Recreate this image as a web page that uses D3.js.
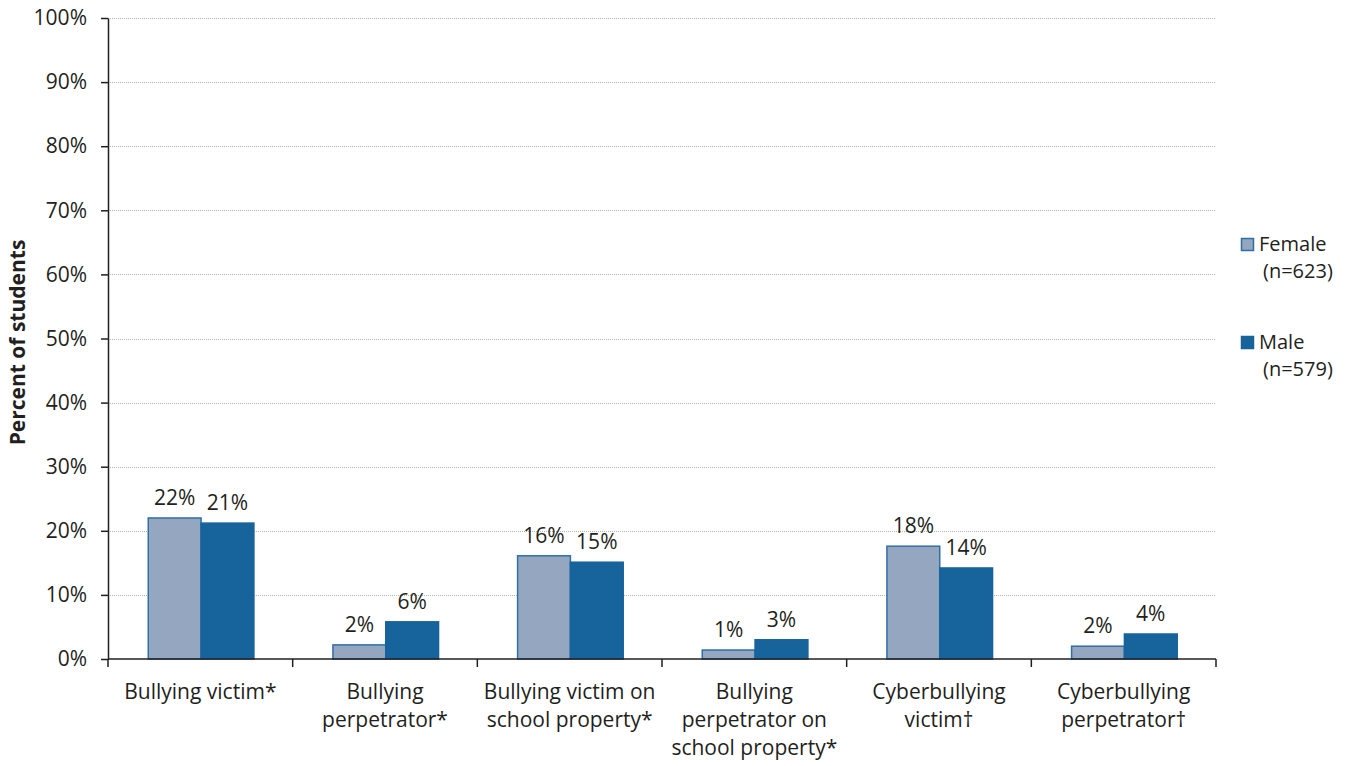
<!DOCTYPE html>
<html>
<head>
<meta charset="utf-8">
<script src="https://cdn.jsdelivr.net/npm/d3@7"></script>
<style>
  body { margin: 0; background: #fff; }
  text { font-family: "Open Sans", "Noto Sans", sans-serif; fill: #231f20; }
</style>
</head>
<body>
<div class="chart"></div>
<script>
// categories and values
var categories = [
    ["Bullying victim*"],
    ["Bullying", "perpetrator*"],
    ["Bullying victim on", "school property*"],
    ["Bullying", "perpetrator on", "school property*"],
    ["Cyberbullying", "victim\u2020"],
    ["Cyberbullying", "perpetrator\u2020"]
];
var series = ["Female", "Male"];
var seriesN = ["(n=623)", "(n=579)"];
var female = [22.0, 2.2, 16.1, 1.4, 17.6, 2.0];
var male = [21.2, 5.8, 15.1, 3.0, 14.2, 3.9];
var femaleLabels = ["22%", "2%", "16%", "1%", "18%", "2%"];
var maleLabels = ["21%", "6%", "15%", "3%", "14%", "4%"];
var yTicks = [0, 10, 20, 30, 40, 50, 60, 70, 80, 90, 100];

var width = 1346,
    height = 766;

var margin = {left: 108, right: 130, top: 18, bottom: 107};

var svg = d3.select(".chart").append("svg")
    .attr("width", width)
    .attr("height", height);

var x0 = d3.scaleBand()
    .domain(d3.range(categories.length))
    .range([margin.left, width - margin.right]);

var bw = x0.bandwidth();
var x1 = d3.scaleBand()
    .domain(series)
    .range([bw * 0.218, bw * 0.79]);

var y = d3.scaleLinear()
    .domain([0, 100])
    .range([height - margin.bottom, margin.top]);

var colors = {Female: "#95a7c0", Male: "#17639b"};
var strokes = {Female: "#2f6ea6", Male: "#17639b"};

// gridlines
svg.append("g")
    .selectAll("line")
    .data(yTicks.slice(1))
    .enter().append("line")
    .attr("x1", margin.left)
    .attr("x2", width - margin.right)
    .attr("y1", function(d) { return Math.round(y(d)) + 0.5; })
    .attr("y2", function(d) { return Math.round(y(d)) + 0.5; })
    .attr("stroke", "#b3b3b3")
    .attr("stroke-width", 1)
    .attr("stroke-dasharray", "1,1");

// y axis
var yAxis = svg.append("g")
    .attr("transform", "translate(" + margin.left + ",0)")
    .call(d3.axisLeft(y).tickValues(yTicks).tickFormat(function(d) { return d + "%"; }).tickSize(7).tickSizeOuter(0));
yAxis.select(".domain").attr("stroke", "#231f20").attr("stroke-width", 1.5);
yAxis.selectAll(".tick line").attr("stroke", "#231f20").attr("stroke-width", 1.5);
yAxis.selectAll(".tick text")
    .attr("x", -21)
    .attr("font-size", 21)
    .style("font-family", "'Open Sans', sans-serif")
    .attr("fill", "#231f20");

// bars
var groups = svg.append("g")
    .selectAll("g")
    .data(categories)
    .enter().append("g")
    .attr("transform", function(d, i) { return "translate(" + x0(i) + ",0)"; });

groups.each(function(d, i) {
    var g = d3.select(this);
    var vals = [
        {s: "Female", v: female[i], label: femaleLabels[i]},
        {s: "Male", v: male[i], label: maleLabels[i]}
    ];
    g.selectAll("rect")
        .data(vals)
        .enter().append("rect")
        .attr("x", function(e) { return x1(e.s); })
        .attr("y", function(e) { return y(e.v); })
        .attr("width", x1.bandwidth())
        .attr("height", function(e) { return y(0) - y(e.v); })
        .attr("fill", function(e) { return colors[e.s]; })
        .attr("stroke", function(e) { return strokes[e.s]; })
        .attr("stroke-width", 1.5);
    g.selectAll("text.val")
        .data(vals)
        .enter().append("text")
        .attr("class", "val")
        .attr("x", function(e) { return x1(e.s) + x1.bandwidth() / 2; })
        .attr("y", function(e) { return y(e.v) - 13; })
        .attr("text-anchor", "middle")
        .attr("font-size", 21)
        .text(function(e) { return e.label; });
});

// x axis
var xAxis = svg.append("g")
    .attr("transform", "translate(0," + y(0) + ")");
xAxis.append("line")
    .attr("x1", margin.left)
    .attr("x2", width - margin.right)
    .attr("stroke", "#231f20")
    .attr("stroke-width", 1.5);
xAxis.selectAll("line.tick")
    .data(d3.range(categories.length + 1))
    .enter().append("line")
    .attr("class", "tick")
    .attr("x1", function(i) { return margin.left + i * bw; })
    .attr("x2", function(i) { return margin.left + i * bw; })
    .attr("y1", 0)
    .attr("y2", 8)
    .attr("stroke", "#231f20")
    .attr("stroke-width", 1.5);

groups.each(function(d) {
    d3.select(this).selectAll("text.cat")
        .data(d)
        .enter().append("text")
        .attr("class", "cat")
        .attr("x", bw / 2)
        .attr("y", function(line, j) { return y(0) + 40 + j * 28; })
        .attr("text-anchor", "middle")
        .attr("font-size", 21)
        .text(function(line) { return line; });
});

// y axis title
svg.append("text")
    .attr("transform", "translate(25," + (y(50) + 4) + ") rotate(-90)")
    .attr("text-anchor", "middle")
    .attr("font-size", 21)
    .attr("font-weight", "bold")
    .text("Percent of students");

// legend
var legend = svg.append("g")
    .selectAll("g")
    .data(series)
    .enter().append("g")
    .attr("transform", function(d, i) { return "translate(1241," + (238 + i * 98) + ")"; });
legend.append("rect")
    .attr("x", 0.5)
    .attr("y", 0.5)
    .attr("width", 12)
    .attr("height", 12)
    .attr("fill", function(d) { return colors[d]; })
    .attr("stroke", function(d) { return strokes[d]; })
    .attr("stroke-width", 1.5);
legend.append("text")
    .attr("x", 18)
    .attr("y", 13)
    .attr("font-size", 20)
    .text(function(d) { return d; });
legend.append("text")
    .attr("x", 22)
    .attr("y", 40)
    .attr("font-size", 20)
    .text(function(d, i) { return seriesN[i]; });
</script>
</body>
</html>
